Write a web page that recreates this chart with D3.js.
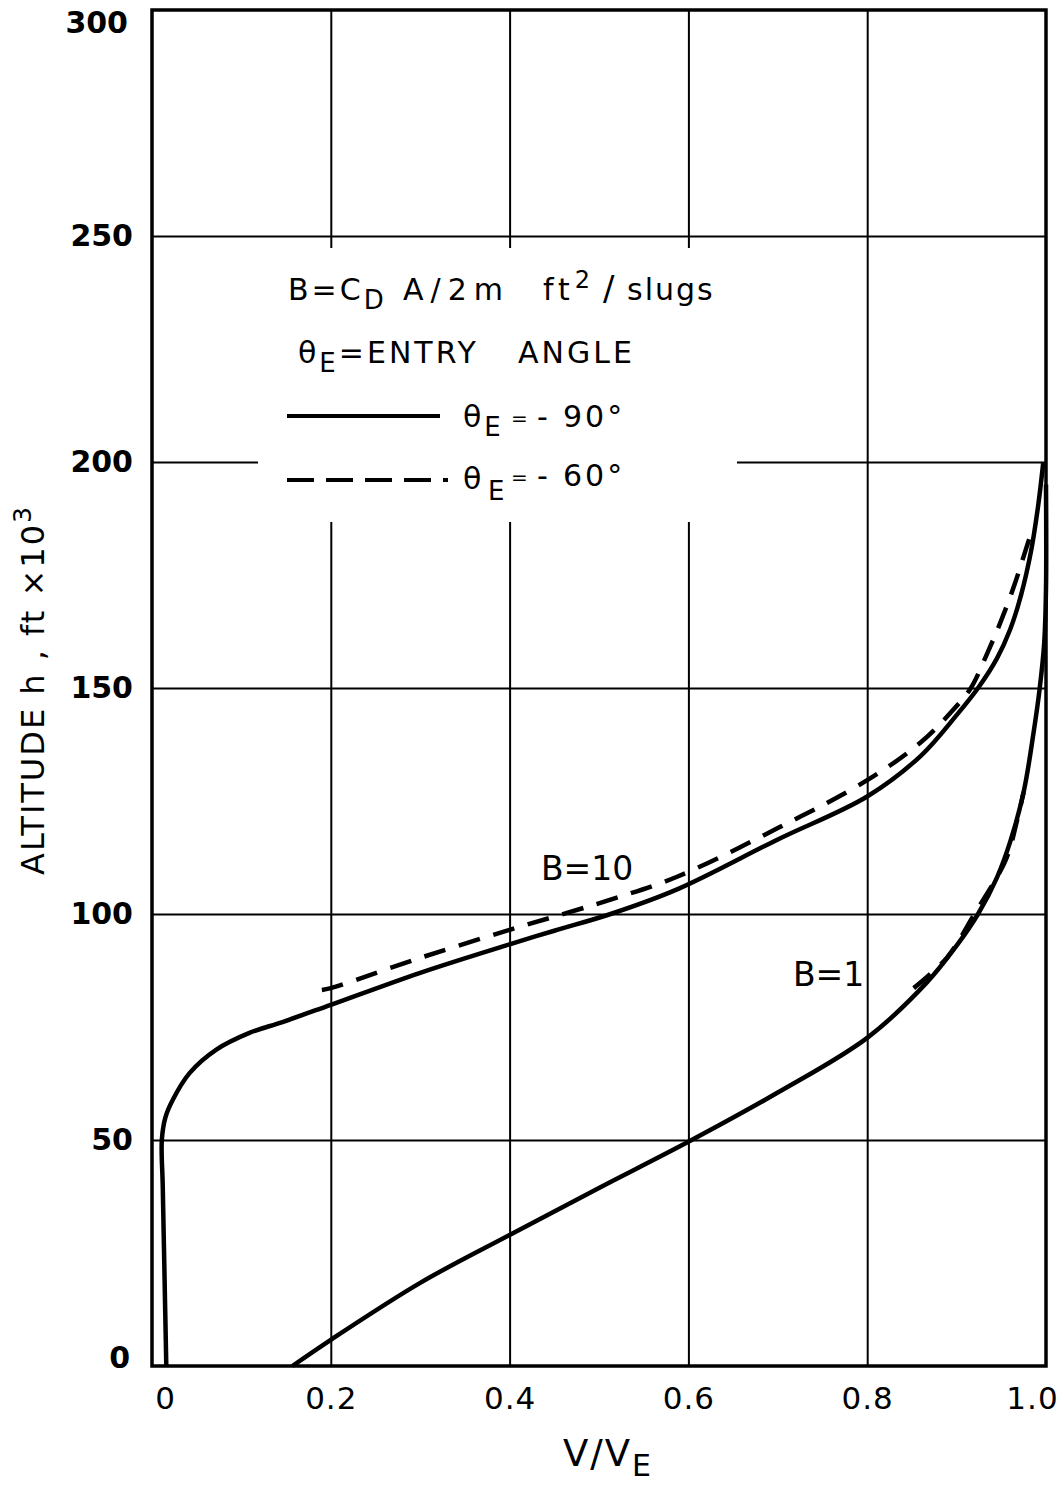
<!DOCTYPE html>
<html>
<head>
<meta charset="utf-8">
<script src="https://cdn.jsdelivr.net/npm/d3@7"></script>
<style>
	body { margin: 0; background: #fff; }
	text { font-family: 'DejaVu Sans', sans-serif; fill: #000; }
	.grid line { stroke: #000; stroke-width: 2; }
	.grid path { display: none; }
	.tick-y { font-size: 30px; font-weight: bold; }
	.tick-x { font-size: 31px; letter-spacing: 1px; }
	.leg { font-size: 30px; letter-spacing: 3px; }
</style>
</head>
<body>
<div id="chart"></div>
<script>
let width = 1059
let height = 1487

let margins = {
	'top': 10,
	'right': 9,
	'bottom': 121,
	'left': 152,
}

// V/VE and altitude (ft x 10^3)
let b10_90_v = [0.016, 0.014, 0.012, 0.011, 0.015, 0.023, 0.042, 0.072, 0.109, 0.146, 0.2, 0.3, 0.4, 0.45, 0.513, 0.588, 0.7, 0.8, 0.86, 0.9, 0.924, 0.945, 0.96, 0.972, 0.983, 0.991, 0.997]
let b10_90_h = [0, 20, 40, 50, 55, 58.8, 64.8, 70, 73.7, 76.1, 79.9, 87, 93.3, 96.3, 100, 105.5, 116.5, 126, 135, 144, 150, 156.5, 163, 170.5, 180, 190, 200]

let b10_60_v = [0.19, 0.2, 0.3, 0.4, 0.465, 0.52, 0.588, 0.7, 0.8, 0.86, 0.9, 0.916, 0.935, 0.95, 0.965, 0.978, 0.983]
let b10_60_h = [83.2, 83.6, 90.3, 96.5, 100.3, 103.6, 108.3, 119, 129.6, 138, 146, 150, 158, 165, 173, 181, 184]

let b1_90_v = [0.157, 0.2, 0.3, 0.4, 0.5, 0.6, 0.7, 0.8, 0.866, 0.9, 0.924, 0.945, 0.96, 0.975, 0.986, 0.993, 0.998, 1.0, 1.0]
let b1_90_h = [0, 5.8, 18.4, 29, 39.4, 49.6, 60.5, 72.6, 84.7, 93, 100, 108, 116, 127, 140, 150, 160, 172, 195]

let b1_60_v = [0.852, 0.889, 0.92, 0.955, 0.968, 0.975]
let b1_60_h = [83.6, 90.3, 100, 112, 121, 127]

let xTicks = [0, 0.2, 0.4, 0.6, 0.8, 1.0]
let xTickLabels = ['0', '0.2', '0.4', '0.6', '0.8', '1.0']
let yTicks = [0, 50, 100, 150, 200, 250, 300]

let innerW = width - margins.left - margins.right
let innerH = height - margins.top - margins.bottom
let plotW = innerW - 4

let xScale = d3.scaleLinear()
	.domain([0, 1])
	.range([0, plotW])

let yScale = d3.scaleLinear()
	.domain([0, 300])
	.range([innerH, 0])

let svg = d3.select('#chart').append('svg')
	.attr('width', width)
	.attr('height', height)

let inner = svg.append('g')
	.attr('transform', 'translate(' + margins.left + ',' + margins.top + ')')

// grid
let xGrid = d3.axisBottom(xScale)
	.tickValues(xTicks.slice(1, -1))
	.tickSize(-innerH)
	.tickFormat('')

let yGrid = d3.axisLeft(yScale)
	.tickValues(yTicks.slice(1, -1))
	.tickSize(-plotW)
	.tickFormat('')

inner.append('g').attr('class', 'grid')
	.attr('transform', `translate(0,${innerH})`)
	.call(xGrid)

inner.append('g').attr('class', 'grid')
	.call(yGrid)

// tick labels
let xAxis = d3.axisBottom(xScale)
	.tickValues(xTicks)
	.tickSize(0)
	.tickPadding(21)
	.tickFormat((d, i) => xTickLabels[i])

let xAxisG = inner.append('g')
	.attr('transform', `translate(0,${innerH})`)
	.call(xAxis)
xAxisG.select('.domain').remove()
xAxisG.selectAll('text').attr('class', 'tick-x').attr('font-family', null).attr('font-size', null)
xAxisG.selectAll('.tick text').filter((d) => d === 0).attr('dx', 13)
xAxisG.selectAll('.tick text').filter((d) => d === 1).attr('dx', -14)

let yAxis = d3.axisLeft(yScale)
	.tickValues(yTicks)
	.tickSize(0)
	.tickPadding(19)

let yAxisG = inner.append('g').call(yAxis)
yAxisG.select('.domain').remove()
yAxisG.selectAll('text').attr('class', 'tick-y').attr('font-family', null).attr('font-size', null)
yAxisG.selectAll('.tick text').filter((d) => d === 0).attr('dy', '0.05em').attr('dx', -3)
yAxisG.selectAll('.tick text').filter((d) => d === 300).attr('dy', '0.75em').attr('dx', -5)

// frame
inner.append('rect')
	.attr('x', 0)
	.attr('y', 0)
	.attr('width', plotW)
	.attr('height', innerH)
	.attr('fill', 'none')
	.attr('stroke', '#000')
	.attr('stroke-width', 3.5)

// legend box (page coords: 258..737, 248..522)
let legend = svg.append('g')

legend.append('rect')
	.attr('x', 258)
	.attr('y', 248)
	.attr('width', 479)
	.attr('height', 274)
	.attr('fill', '#fff')

legend.append('text')
	.attr('class', 'leg')
	.attr('y', 300)
	.html('<tspan x="288">B=C</tspan><tspan dy="9" font-size="26">D</tspan>' +
		'<tspan x="403" dy="-9" letter-spacing="7">A/2m</tspan>' +
		'<tspan x="543" letter-spacing="5">ft</tspan><tspan dy="-12" font-size="24">2</tspan>' +
		'<tspan x="603" dy="12" font-size="34" letter-spacing="0">/</tspan><tspan x="627" letter-spacing="2">slugs</tspan>')

legend.append('text')
	.attr('class', 'leg')
	.attr('y', 363)
	.html('<tspan x="298">θ</tspan><tspan dy="9" font-size="26">E</tspan>' +
		'<tspan dy="-9">=ENTRY</tspan><tspan x="518">ANGLE</tspan>')

legend.append('line')
	.attr('x1', 287).attr('x2', 440)
	.attr('y1', 416).attr('y2', 416)
	.attr('stroke', '#000').attr('stroke-width', 4)

legend.append('text')
	.attr('class', 'leg')
	.attr('y', 427)
	.html('<tspan x="463">θ</tspan><tspan dy="9" font-size="26">E</tspan>' +
		'<tspan x="511" dy="-11" font-size="20" letter-spacing="0">=</tspan><tspan x="537" dy="2">-</tspan><tspan x="563">90°</tspan>')

legend.append('line')
	.attr('x1', 287).attr('x2', 448)
	.attr('y1', 480).attr('y2', 480)
	.attr('stroke', '#000').attr('stroke-width', 4)
	.attr('stroke-dasharray', '27,12')

legend.append('text')
	.attr('class', 'leg')
	.attr('y', 486)
	.html('<tspan x="463" dy="3">θ</tspan><tspan x="488" dy="11" font-size="26">E</tspan>' +
		'<tspan x="511" dy="-16" font-size="20" letter-spacing="0">=</tspan><tspan x="537" dy="2">-</tspan><tspan x="563">60°</tspan>')

// curves
let line = d3.line()
	.x((d) => xScale(d[0]))
	.y((d) => yScale(d[1]))
	.curve(d3.curveCatmullRom.alpha(0.5))

let series = [
	{ v: b10_90_v, h: b10_90_h, dash: null },
	{ v: b10_60_v, h: b10_60_h, dash: '22,14' },
	{ v: b1_90_v, h: b1_90_h, dash: null },
	{ v: b1_60_v, h: b1_60_h, dash: '22,14' },
]

let marks = inner.append('g')

marks.selectAll('path')
	.data(series)
	.enter().append('path')
	.attr('d', (d) => line(d.v.map((v, i) => [v, d.h[i]])))
	.attr('fill', 'none')
	.attr('stroke', '#000')
	.attr('stroke-width', 4.5)
	.attr('stroke-dasharray', (d) => d.dash)

// curve labels
inner.append('text')
	.attr('x', xScale(0.435))
	.attr('y', yScale(107.5))
	.attr('font-size', 33)
	.text('B=10')

inner.append('text')
	.attr('x', xScale(0.717))
	.attr('y', yScale(84))
	.attr('font-size', 33)
	.text('B=1')

// axis titles
svg.append('text')
	.attr('transform', 'translate(44,690) rotate(-90)')
	.attr('text-anchor', 'middle')
	.attr('font-size', 32)
	.attr('letter-spacing', 2)
	.html('ALTITUDE h , ft ×10<tspan dy="-13" font-size="25">3</tspan>')

svg.append('text')
	.attr('x', 563)
	.attr('y', 1466)
	.attr('font-size', 37)
	.attr('letter-spacing', 2)
	.html('V/V<tspan dy="10" font-size="30">E</tspan>')
</script>
</body>
</html>
